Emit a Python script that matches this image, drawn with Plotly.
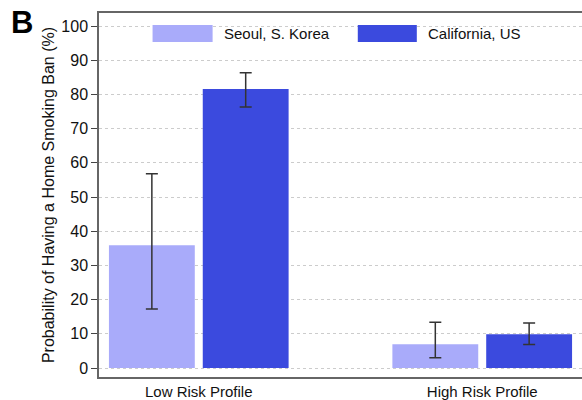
import plotly.graph_objects as go

# Predicted probability of a home smoking ban by risk profile and location
profiles = ["Low Risk Profile", "High Risk Profile"]
seoul_vals = [35.9, 7.0]
seoul_lo = [17.3, 3.0]
seoul_hi = [56.8, 13.4]
calif_vals = [81.6, 9.9]
calif_lo = [76.3, 6.9]
calif_hi = [86.3, 13.2]
series_names = ["Seoul, S. Korea", "California, US"]
y_ticks = list(range(0, 101, 10))

SEOUL_COLOR = "#a9abfa"
CALIF_COLOR = "#3b4ade"
FONT = "Liberation Sans, Arial, sans-serif"


def err(vals, lo, hi):
    return dict(
        type="data",
        array=[h - v for v, h in zip(vals, hi)],
        arrayminus=[v - l for v, l in zip(vals, lo)],
        color="#333333",
        thickness=1.5,
        width=6,
    )


fig = go.Figure()
fig.add_trace(go.Bar(
    x=profiles, y=seoul_vals, name=series_names[0],
    marker=dict(color=SEOUL_COLOR, line=dict(width=0)),
    error_y=err(seoul_vals, seoul_lo, seoul_hi), showlegend=False,
))
fig.add_trace(go.Bar(
    x=profiles, y=calif_vals, name=series_names[1],
    marker=dict(color=CALIF_COLOR, line=dict(width=0)),
    error_y=err(calif_vals, calif_lo, calif_hi), showlegend=False,
))

# Legend drawn as wide swatches with labels across the top of the plot
swatches = [
    (series_names[0], SEOUL_COLOR, 0.1109, 0.2352, 0.2539),
    (series_names[1], CALIF_COLOR, 0.5358, 0.6580, 0.6767),
]
for label, color, x0, x1, xt in swatches:
    fig.add_shape(type="rect", xref="paper", yref="paper",
                  x0=x0, x1=x1, y0=0.9203, y1=0.9670,
                  fillcolor=color, line=dict(width=0), layer="above")
    fig.add_annotation(text=label, xref="paper", yref="paper",
                       x=xt, y=0.9437, xanchor="left", yanchor="middle",
                       showarrow=False, font=dict(size=15, color="#111111", family=FONT))

# Panel letter
fig.add_annotation(text="<b>B</b>", xref="paper", yref="paper",
                   x=-0.186, y=1.028, xanchor="left", yanchor="top",
                   showarrow=False, font=dict(size=31, color="#000000", family=FONT))

fig.update_layout(
    width=582, height=400,
    margin=dict(l=99, r=0, t=13, b=23),
    plot_bgcolor="white", paper_bgcolor="white",
    barmode="group", bargap=0.338, bargroupgap=0.085,
    font=dict(family=FONT, color="#111111"),
    xaxis=dict(
        range=[-0.352, 1.352],
        showgrid=False, zeroline=False,
        showline=True, linecolor="#666666", linewidth=1.5, mirror=True,
        ticks="", tickfont=dict(size=15, color="#111111"),
    ),
    yaxis=dict(
        range=[-2.6, 103.8],
        tickvals=y_ticks,
        showgrid=True, gridcolor="#cccccc", gridwidth=1, griddash="3px,3px",
        zeroline=False,
        showline=True, linecolor="#666666", linewidth=1.5,
        ticks="outside", ticklen=6, tickcolor="#444444", tickwidth=1,
        tickfont=dict(size=16, color="#111111"),
        title=dict(text="Probability of Having a Home Smoking Ban (%)",
                   font=dict(size=16, color="#111111"), standoff=3),
    ),
)

fig.write_html("out.html")
